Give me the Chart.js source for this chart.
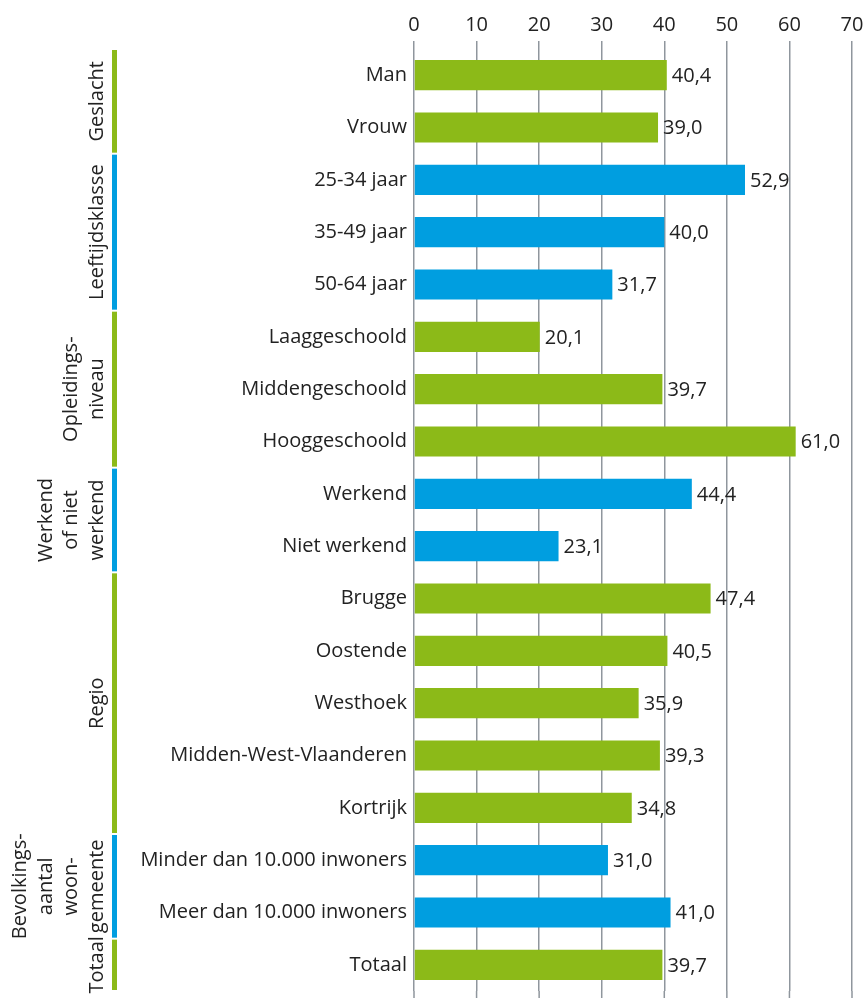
<!DOCTYPE html>
<html>
<head>
<meta charset="utf-8">
<script src="https://cdn.jsdelivr.net/npm/chart.js@4"></script>
<style>
  html, body { margin: 0; padding: 0; background: #fff; }
  #wrap { width: 868px; height: 998px; position: relative; }
</style>
</head>
<body>
<div id="wrap"><canvas id="chart"></canvas></div>
<script>
const categories = ['Man', 'Vrouw', '25-34 jaar', '35-49 jaar', '50-64 jaar', 'Laaggeschoold',
    'Middengeschoold', 'Hooggeschoold', 'Werkend', 'Niet werkend', 'Brugge', 'Oostende', 'Westhoek',
    'Midden-West-Vlaanderen', 'Kortrijk', 'Minder dan 10.000 inwoners', 'Meer dan 10.000 inwoners', 'Totaal'];
const values = [40.4, 39.0, 52.9, 40.0, 31.7, 20.1, 39.7, 61.0, 44.4, 23.1, 47.4, 40.5, 35.9, 39.3, 34.8, 31.0, 41.0, 39.7];
const xTicks = [0, 10, 20, 30, 40, 50, 60, 70];

// groups: label lines, first and last row index
const groupLabels = [['Geslacht'], ['Leeftijdsklasse'], ['Opleidings-', 'niveau'], ['Werkend', 'of niet', 'werkend'],
    ['Regio'], ['Bevolkings-', 'aantal', 'woon-', 'gemeente'], ['Totaal']];
const groupStart = [0, 2, 5, 8, 10, 15, 17];
const groupEnd = [1, 4, 7, 9, 14, 16, 17];

const GREEN = '#8cba18';
const BLUE = '#009ee0';
const GRID = '#8f969d';
const FONT = '"Open Sans", "Noto Sans", sans-serif';
const SIZE = 20;

const barColors = categories.map((c, i) => {
    const g = groupStart.findIndex((s, k) => i >= s && i <= groupEnd[k]);
    return g % 2 === 0 ? GREEN : BLUE;
});

Chart.defaults.font.family = FONT;
Chart.defaults.color = '#222';

// value labels, group labels and the grid ends below the plot
const extras = {
    id: 'extras',
    beforeDatasetsDraw(chart) {
        const ctx = chart.ctx, x = chart.scales.x, a = chart.chartArea;
        ctx.save();
        ctx.strokeStyle = GRID;
        ctx.lineWidth = 1.5;
        xTicks.forEach(t => {
            const px = x.getPixelForValue(t);
            ctx.beginPath();
            ctx.moveTo(px, a.bottom);
            ctx.lineTo(px, 998);
            ctx.stroke();
        });
        ctx.restore();
    },
    afterDatasetsDraw(chart) {
        const ctx = chart.ctx, x = chart.scales.x, y = chart.scales.y;
        const band = y.getPixelForValue(1) - y.getPixelForValue(0);
        ctx.save();
        ctx.font = SIZE + 'px ' + FONT;
        ctx.fillStyle = '#222';
        ctx.textBaseline = 'middle';
        ctx.textAlign = 'left';
        values.forEach((v, i) => {
            ctx.fillText(v.toFixed(1).replace('.', ','), x.getPixelForValue(v) + 5, y.getPixelForValue(i) + 1);
        });
        groupLabels.forEach((lines, g) => {
            const top = y.getPixelForValue(groupStart[g]) - band / 2;
            const bot = y.getPixelForValue(groupEnd[g]) + band / 2;
            ctx.fillStyle = g % 2 === 0 ? GREEN : BLUE;
            ctx.fillRect(112, top + 1, 5, bot - top - 2);
            ctx.fillStyle = '#222';
            const mid = (top + bot) / 2;
            lines.forEach((ln, k) => {
                const lx = 97 - (lines.length - 1 - k) * 25.5;
                ctx.save();
                ctx.translate(lx, mid);
                ctx.rotate(-Math.PI / 2);
                ctx.textAlign = 'center';
                ctx.fillText(ln, 0, 0);
                ctx.restore();
            });
        });
        ctx.restore();
    }
};

new Chart(document.getElementById('chart'), {
    type: 'bar',
    data: {
        labels: categories,
        datasets: [{
            data: values,
            backgroundColor: barColors,
            borderWidth: 0,
            categoryPercentage: 1,
            barPercentage: 0.575
        }]
    },
    options: {
        indexAxis: 'y',
        responsive: true,
        maintainAspectRatio: false,
        animation: false,
        layout: { padding: { top: 0, right: 16, bottom: 7, left: 0 } },
        scales: {
            x: {
                position: 'top',
                min: 0,
                max: 70,
                afterBuildTicks: s => { s.ticks = xTicks.map(v => ({ value: v })); },
                afterFit: s => { s.height = 49; },
                ticks: { font: { size: SIZE }, color: '#222', padding: 4 },
                grid: { color: GRID, lineWidth: 1.5, tickLength: 8, drawOnChartArea: true },
                border: { display: false }
            },
            y: {
                afterFit: s => { s.width = 414; s.paddingTop = 0; s.paddingBottom = 0; },
                ticks: { font: { size: SIZE }, color: '#222', padding: 7 },
                grid: { display: false, drawTicks: false },
                border: { display: false }
            }
        },
        plugins: {
            legend: { display: false },
            tooltip: { enabled: false }
        }
    },
    plugins: [extras]
});
</script>
</body>
</html>
